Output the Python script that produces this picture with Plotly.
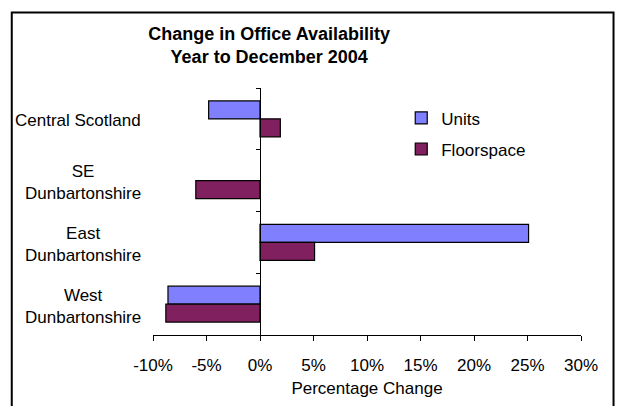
import plotly.graph_objects as go

categories = ["Central Scotland", "SE<br>Dunbartonshire", "East<br>Dunbartonshire", "West<br>Dunbartonshire"]
units = [-4.8, None, 25.1, -8.6]
floorspace = [1.9, -6.0, 5.1, -8.8]
x_ticks = [-10, -5, 0, 5, 10, 15, 20, 25, 30]
x_range = [-10, 30]

FONT = "Liberation Sans, Arial, sans-serif"

fig = go.Figure()
fig.add_trace(go.Bar(
    y=categories, x=units, orientation="h", name="Units",
    marker=dict(color="#8080FF", line=dict(color="black", width=1.2)),
    legendgroup="a",
))
fig.add_trace(go.Bar(
    y=categories, x=floorspace, orientation="h", name="Floorspace",
    marker=dict(color="#80205F", line=dict(color="black", width=1.2)),
    legendgroup="b",
))

zero_pos = (0 - x_range[0]) / (x_range[1] - x_range[0])

for c in categories:
    fig.add_annotation(
        x=-0.0234, xref="paper", y=c, yref="y", text=c, showarrow=False,
        xanchor="right", yanchor="middle", align="center", yshift=-2,
        font=dict(family=FONT, size=17, color="black"),
    )

fig.add_shape(type="rect", xref="paper", yref="paper",
              x0=-0.33, x1=1.076, y0=-0.4, y1=1.3056,
              line=dict(color="black", width=2), layer="above")

fig.update_layout(
    width=617, height=406,
    margin=dict(l=153, r=36, t=88, b=66),
    paper_bgcolor="white", plot_bgcolor="white",
    barmode="group", bargap=0.418, bargroupgap=0,
    font=dict(family=FONT, size=17, color="black"),
    title=dict(
        text="<b>Change in Office Availability<br>Year to December 2004</b>",
        x=(269 - 153) / 427.4, xref="paper", xanchor="center",
        y=1 - 40 / 406, yanchor="middle",
        font=dict(family=FONT, size=18, color="black"),
    ),
    xaxis=dict(
        range=x_range, tickvals=x_ticks, ticktext=[f"{v}%" for v in x_ticks],
        showgrid=False, zeroline=False, showline=True, linecolor="black", linewidth=1,
        ticks="outside", ticklen=5, tickcolor="black", tickwidth=1,
        ticklabelstandoff=10,
        title=dict(text="Percentage Change", standoff=7, font=dict(size=17)),
        tickfont=dict(size=17),
    ),
    yaxis=dict(
        autorange="reversed", anchor="free", position=zero_pos,
        showticklabels=False, showgrid=False, zeroline=False,
        showline=True, linecolor="black", linewidth=1,
        ticks="outside", tickson="boundaries", ticklen=4, tickcolor="black",
    ),
    legend=dict(
        x=0.58, y=0.95, xanchor="left", yanchor="top",
        bgcolor="rgba(0,0,0,0)", font=dict(size=17),
        traceorder="grouped", tracegroupgap=6,
    ),
)

fig.write_html("out.html", config={"displayModeBar": False},
               post_script="document.body.style.margin='0';document.body.style.overflow='hidden';")
